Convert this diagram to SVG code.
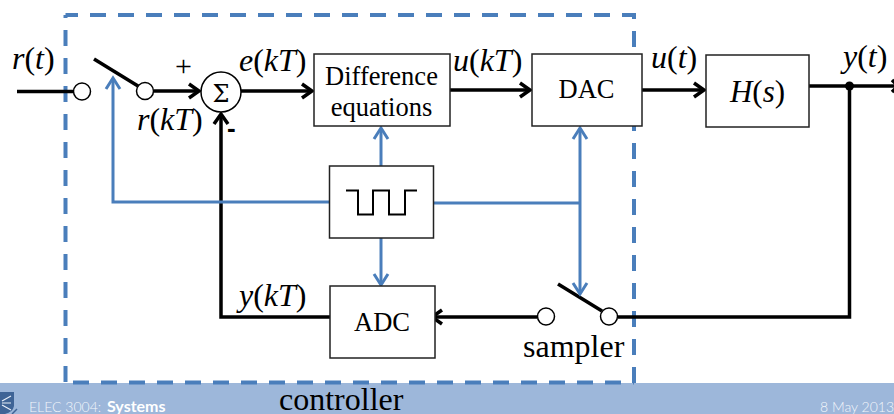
<svg xmlns="http://www.w3.org/2000/svg" width="894" height="414" viewBox="0 0 894 414">
<style>
.t{font-family:"Liberation Serif","Times New Roman",serif;font-size:26.500px;fill:#000}
.m{font-family:"Liberation Serif","Times New Roman",serif;font-size:32px;fill:#000}
.i{font-style:italic}
.box{fill:#fff;stroke:#222;stroke-width:1.5}
.b{fill:none;stroke:#000;stroke-width:3.5}
.bl{fill:none;stroke:#4a7ebb;stroke-width:3}
.ah{fill:none;stroke:#000;stroke-width:3.5}
.ab{fill:none;stroke:#4a7ebb;stroke-width:3}
.c{fill:#fff;stroke:#000;stroke-width:1.5}
.f{font-family:"Lato","Liberation Sans",sans-serif;font-size:14px;font-weight:300;fill:#f2f6fb}
.d{fill:none;stroke:#4a7ebb;stroke-width:4;stroke-dasharray:16 12}
</style>
<rect x="0" y="383" width="894" height="31" fill="#9db7da"/>
<g id="logo"><path d="M0 392H14V406Q13 412 5 414H0Z" fill="#3f6496"/><path d="M2 401L11 396M2 403H11M2 405L11 410" stroke="#e8eff8" stroke-width="1.2" fill="none"/><path d="M12 414L17 409" stroke="#3f6496" stroke-width="1.5"/></g>
<g id="frame">
<path class="d" d="M65.500 15H636" stroke-dashoffset="3.500"/>
<path class="d" d="M65.500 15V383" stroke-dashoffset="13"/>
<path class="d" d="M66 382.500H634" stroke-dashoffset="21"/>
<path class="d" d="M634 15V383" stroke-dashoffset="12"/>
</g>
<g id="connectors">
<path class="b" d="M17 91.500H73"/>
<path class="b" d="M94 59L138 86" stroke-width="3"/>
<path class="b" d="M154 91H198"/><path class="ah" d="M189 84L199 91L189 98"/>
<path class="b" d="M241 91H311"/><path class="ah" d="M302 84L312 91L302 98"/>
<path class="b" d="M450 90H529"/><path class="ah" d="M520 83L530 90L520 97"/>
<path class="b" d="M642 90H703"/><path class="ah" d="M694 83L704 90L694 97"/>
<path class="b" d="M809 86H894"/><path class="ah" d="M892 80L898 86L892 92"/>
<path class="b" d="M849.500 86V317H618"/>
<path class="b" d="M558 284L602 311" stroke-width="3"/>
<path class="b" d="M537 317H433"/><path class="ah" d="M442 310L432 317L442 324"/>
<path class="b" d="M330 317H221V115"/><path class="ah" d="M214 124L221 114L228 124"/>
<path class="bl" d="M329 202H113V79"/><path class="ab" d="M106 89L113 78L120 89"/>
<path class="bl" d="M434 203H580"/>
<path class="bl" d="M580 128V293"/><path class="ab" d="M573 139L580 128L587 139M573 283L580 294L587 283"/>
<path class="bl" d="M381 166V129"/><path class="ab" d="M374 139L381 128L388 139"/>
<path class="bl" d="M381 238V284"/><path class="ab" d="M374 274L381 285L388 274"/>
</g>
<g id="junction"><circle cx="849.500" cy="86" r="4.500" fill="#000"/></g>
<g id="input-switch"><circle class="c" cx="82" cy="91.500" r="8.500"/><circle class="c" cx="145" cy="91" r="8.500"/></g>
<g id="sampler-switch"><circle class="c" cx="546" cy="316.500" r="8.500"/><circle class="c" cx="609" cy="316.500" r="8.500"/></g>
<g id="sum"><circle class="c" cx="221" cy="92" r="20" stroke-width="1.2"/><text x="221" y="102" text-anchor="middle" style="font-family:'DejaVu Serif','Liberation Serif',serif;font-size:24px">Σ</text></g>
<g id="difference"><rect class="box" x="314" y="54" width="136" height="72"/><text x="381.500" y="85" text-anchor="middle" class="t">Difference</text><text x="381.500" y="116" text-anchor="middle" class="t">equations</text></g>
<g id="dac"><rect class="box" x="532" y="54" width="110" height="72"/><text x="586.500" y="98" text-anchor="middle" class="t">DAC</text></g>
<g id="plant"><rect class="box" x="706" y="55" width="103" height="72"/><text x="757.500" y="102" text-anchor="middle" class="t" style="font-size:31px"><tspan class="i">H</tspan>(<tspan class="i">s</tspan>)</text></g>
<g id="clock"><rect class="box" x="329.500" y="166" width="104" height="72"/><path d="M346 190.500H358V214.500H373V190.500H389V214.500H405V190.500H417" fill="none" stroke="#000" stroke-width="2"/></g>
<g id="adc"><rect class="box" x="330" y="286" width="105" height="72"/><text x="382" y="331" text-anchor="middle" class="t">ADC</text></g>
<g id="labels">
<text x="12" y="69" class="m"><tspan class="i">r</tspan>(<tspan class="i">t</tspan>)</text>
<text x="137" y="130" class="m"><tspan class="i">r</tspan>(<tspan class="i">kT</tspan>)</text>
<text x="239" y="71" class="m"><tspan class="i">e</tspan>(<tspan class="i">kT</tspan>)</text>
<text x="453" y="71" class="m"><tspan class="i">u</tspan>(<tspan class="i">kT</tspan>)</text>
<text x="651" y="68" class="m"><tspan class="i">u</tspan>(<tspan class="i">t</tspan>)</text>
<text x="843" y="67" class="m"><tspan class="i">y</tspan>(<tspan class="i">t</tspan>)</text>
<text x="239" y="306" class="m"><tspan class="i">y</tspan>(<tspan class="i">kT</tspan>)</text>
<text x="175" y="76" class="t" style="font-size:30px">+</text>
<text x="227" y="137" style="font-family:'Liberation Sans',sans-serif;font-size:26px;font-weight:bold">-</text>
<text x="523" y="357" class="m">sampler</text>
<text x="279" y="410" class="m">controller</text>
<text x="29" y="412" class="f">ELEC 3004: </text>
<text x="107" y="412" class="f" style="font-size:16px;font-weight:700;fill:#fff">Systems</text>
<text x="894" y="412" text-anchor="end" class="f">8 May 2013</text>
</g>
</svg>
